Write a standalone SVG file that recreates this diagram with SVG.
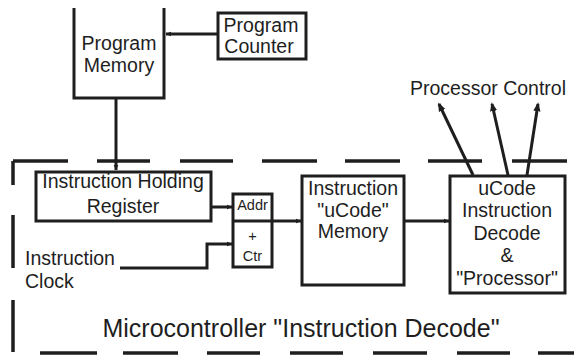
<svg xmlns="http://www.w3.org/2000/svg" width="574" height="356" viewBox="0 0 574 356">
<style>
.box{fill:none;stroke:#1e1e1e;stroke-width:3}
.ln{fill:none;stroke:#1e1e1e;stroke-width:3}
.dash{fill:none;stroke:#1e1e1e;stroke-width:3.5}
text{font-family:"Liberation Sans",Arial,sans-serif;fill:#1e1e1e;text-anchor:middle}
.t{font-size:19.5px}
.s{font-size:14.5px}
.big{font-size:25px}
</style>
<defs>
<marker id="ah" viewBox="0 0 10 10" refX="9" refY="5" markerWidth="6" markerHeight="6" markerUnits="userSpaceOnUse" orient="auto">
<path d="M0,1 L10,5 L0,9 Z" fill="#1e1e1e"/>
</marker>
<marker id="ahl" viewBox="0 0 10 10" refX="8" refY="5" markerWidth="9" markerHeight="9" markerUnits="userSpaceOnUse" orient="auto">
<path d="M0,1 L10,5 L0,9 Z" fill="#1e1e1e"/>
</marker>
</defs>
<g id="border">
<path class="dash" d="M13,161 H68 M13,161 V185 M97,161 H150 M180,161 H233 M262,161 H317 M345,161 H400 M428,161 H482 M512,161 H567"/>
<path class="dash" d="M13,215 V268 M13,300 V352"/>
<path class="dash" d="M40,353 H97 M123,353 H178 M207,353 H260 M290,353 H343 M373,353 H427 M457,353 H510 M538,353 H574"/>
<text class="big" x="301" y="337">Microcontroller "Instruction Decode"</text>
</g>
<g id="program-memory">
<path class="box" d="M74,8 V98 H164 V8"/>
<text class="t" x="119" y="50">Program</text>
<text class="t" x="119" y="72">Memory</text>
</g>
<g id="program-counter">
<rect class="box" x="218" y="13" width="88" height="46"/>
<text class="t" x="261" y="32">Program</text>
<text class="t" x="259" y="53">Counter</text>
</g>
<g id="ihr">
<rect class="box" x="36" y="172" width="175" height="49"/>
<text class="t" x="123" y="188">Instruction Holding</text>
<text class="t" x="123" y="213">Register</text>
</g>
<g id="addr-ctr">
<rect class="box" x="233" y="194" width="39" height="73"/>
<line class="ln" x1="233" y1="221" x2="272" y2="221"/>
<text class="s" x="252.5" y="210">Addr</text>
<text class="s" x="252.5" y="241">+</text>
<text class="s" x="252.5" y="261">Ctr</text>
</g>
<g id="instruction-clock">
<text class="t" x="25" y="265" style="text-anchor:start">Instruction</text>
<text class="t" x="25" y="288" style="text-anchor:start">Clock</text>
</g>
<g id="ucode-memory">
<rect class="box" x="302" y="176" width="102" height="109"/>
<text class="t" x="353" y="195">Instruction</text>
<text class="t" x="353" y="217">"uCode"</text>
<text class="t" x="353" y="238">Memory</text>
</g>
<g id="ucode-decode">
<rect class="box" x="450" y="176" width="115" height="117"/>
<text class="t" x="507" y="195">uCode</text>
<text class="t" x="507" y="217">Instruction</text>
<text class="t" x="507" y="240">Decode</text>
<text class="t" x="507" y="262">&amp;</text>
<text class="t" x="507" y="285">"Processor"</text>
</g>
<g id="processor-control">
<text class="t" x="488" y="95">Processor Control</text>
</g>
<g id="connectors">
<line class="ln" x1="217" y1="34" x2="166" y2="34" marker-end="url(#ah)"/>
<line class="ln" x1="116" y1="99" x2="116" y2="170" marker-end="url(#ah)"/>
<line class="ln" x1="211" y1="207" x2="232" y2="207" marker-end="url(#ah)"/>
<polyline class="ln" points="120,268 207,268 207,244 232,244" marker-end="url(#ah)"/>
<line class="ln" x1="272" y1="221" x2="301" y2="221" marker-end="url(#ah)"/>
<line class="ln" x1="404" y1="221" x2="449" y2="221" marker-end="url(#ah)"/>
<line class="ln" x1="473" y1="175" x2="439" y2="104" marker-end="url(#ahl)"/>
<line class="ln" x1="508" y1="175" x2="492" y2="104" marker-end="url(#ahl)"/>
<line class="ln" x1="527" y1="175" x2="538" y2="104" marker-end="url(#ahl)"/>
</g>
</svg>
